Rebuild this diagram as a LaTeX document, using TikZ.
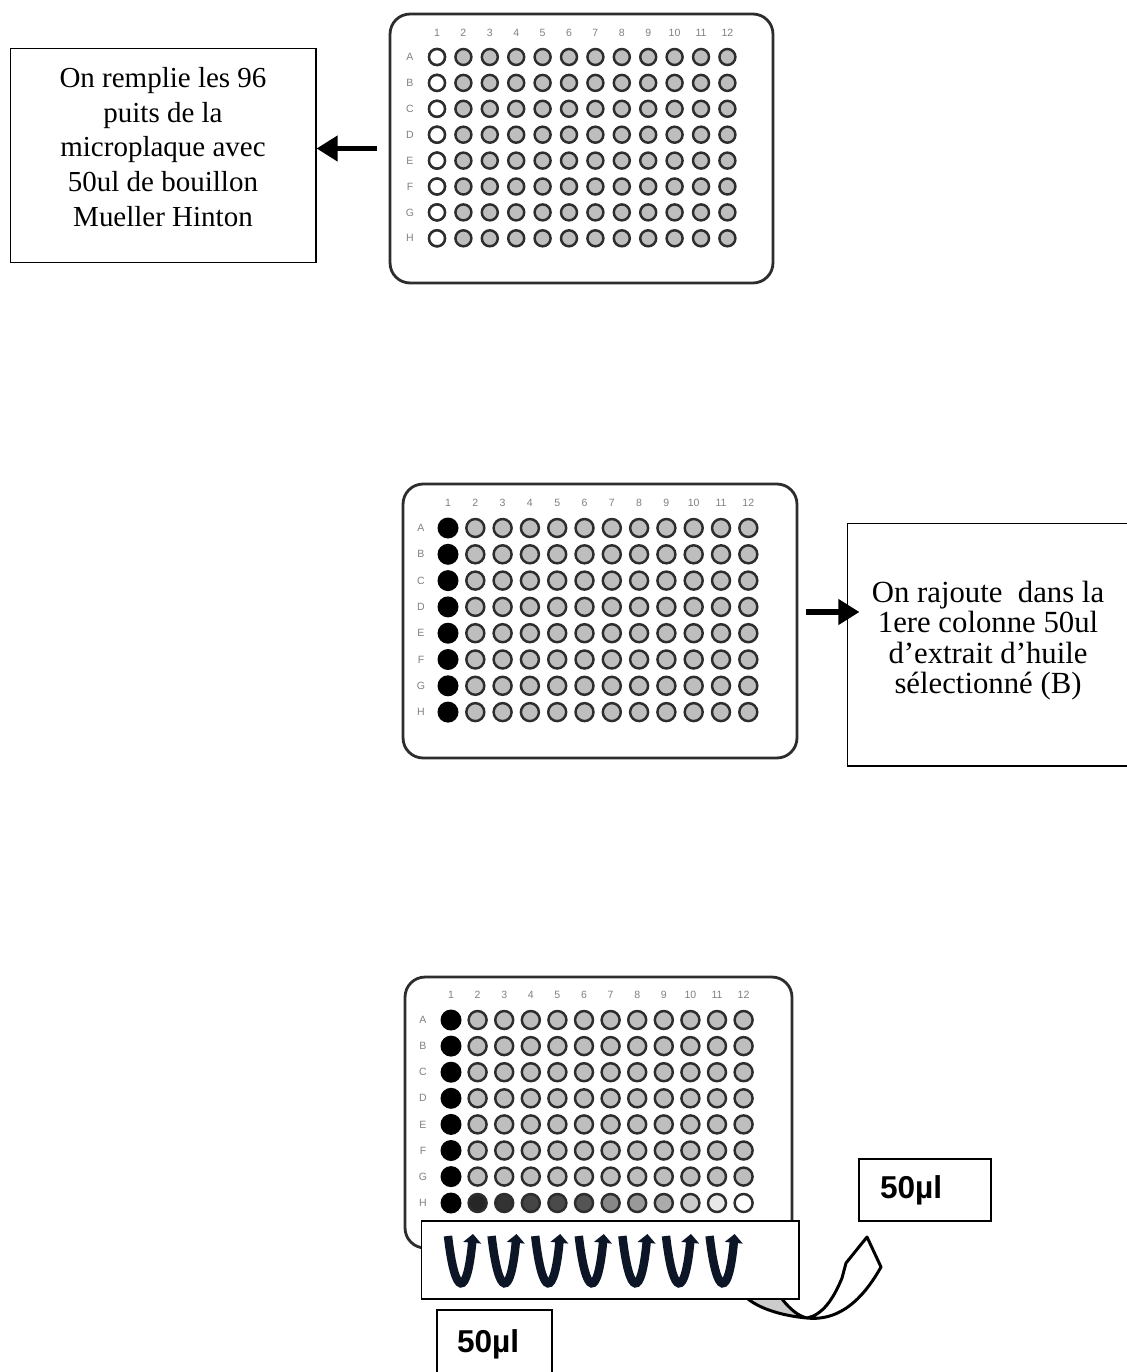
\documentclass[tikz,border=0pt]{standalone}
\usepackage{fontspec}
\setmainfont{Liberation Serif}
\setsansfont{Liberation Sans}
\usetikzlibrary{arrows.meta}
\definecolor{wellrim}{RGB}{45,45,45}
\definecolor{wellfill}{RGB}{190,190,190}
\definecolor{stripink}{RGB}{12,22,38}
\begin{document}
\begin{tikzpicture}[x=0.02cm,y=-0.02cm,
	plate/.style={draw=wellrim, line width=1.6pt, rounded corners=0.4cm, inner sep=0pt},
	well/.style={draw=wellrim, line width=1.4pt},
	lbl/.style={font=\sffamily\fontsize{6}{6}\selectfont, text=gray},
	infobox/.style={draw, line width=0.6pt},
	infotext/.style={align=center, inner sep=0pt},
	volbox/.style={draw, line width=0.6pt, align=left, inner xsep=0.42cm, font=\sffamily\bfseries\fontsize{18}{18}\selectfont},
	bigarrow/.style={line width=3.4pt, -{Triangle[length=12pt,width=14pt]}},
	ustroke/.style={draw=stripink, line width=4.8pt, -{Triangle[length=5pt,width=10pt]}}]
	\useasboundingbox (0,0) rectangle (1126,1372);
	\node[plate, minimum width=7.66cm, minimum height=5.38cm] (plate1) at (581.5,148.5) {};
	\foreach \c in {1,...,12}
		\node[lbl] at ({437+26.4*(\c-1)},33) {\c};
	\foreach \r [count=\i from 0] in {A,B,C,D,E,F,G,H}
		\node[lbl] at (410,{57+25.9*\i}) {\r};
	\foreach \c in {1,...,12}
		\foreach \i in {0,...,7}
			\draw[well, fill=wellfill] ({437+26.4*(\c-1)},{57+25.9*\i}) circle[radius=0.16cm];
	\foreach \i in {0,...,7}
		\draw[well, fill=white] (437,{57+25.9*\i}) circle[radius=0.16cm];
	\node[infobox, minimum width=6.12cm, minimum height=4.28cm] (step1) at (163,155.5) {};
	\node[infotext, font=\fontsize{16.5}{19.8}\selectfont] (step1text) at ([yshift=0.17cm]step1.center) {On remplie les 96\\puits de la\\microplaque avec\\50ul de bouillon\\Mueller Hinton};
	\draw[bigarrow, shorten <=0.24cm] (plate1.west) -- (plate1.west -| step1.east);

	\node[plate, minimum width=7.88cm, minimum height=5.48cm] (plate2) at (600,621) {};
	\foreach \c in {1,...,12}
		\node[lbl] at ({448+27.3*(\c-1)},503) {\c};
	\foreach \r [count=\i from 0] in {A,B,C,D,E,F,G,H}
		\node[lbl] at (421,{528+26.3*\i}) {\r};
	\foreach \c in {2,...,12}
		\foreach \i in {0,...,7}
			\draw[well, fill=wellfill] ({448+27.3*(\c-1)},{528+26.3*\i}) circle[radius=0.18cm];
	\foreach \i in {0,...,7}
		\fill (448,{528+26.3*\i}) circle[radius=0.21cm];
	\node[infobox, minimum width=5.64cm, minimum height=4.86cm] (step2) at (988,644.5) {};
	\node[infotext, font=\fontsize{17.5}{17.3}\selectfont] (step2text) at ([yshift=0.08cm]step2.center) {On rajoute\ \ dans la\\1ere colonne 50ul\\d’extrait d’huile\\sélectionné (B)};
	\draw[bigarrow, shorten <=0.16cm, shorten >=-0.26cm] ([yshift=0.18cm]plate2.east) -- ([yshift=0.18cm]plate2.east -| step2.west);

	\node[plate, minimum width=7.74cm, minimum height=5.42cm] (plate3) at (598.5,1112.5) {};
	\foreach \c in {1,...,12}
		\node[lbl] at ({451+26.6*(\c-1)},995) {\c};
	\foreach \r [count=\i from 0] in {A,B,C,D,E,F,G,H}
		\node[lbl] at (423,{1020+26.1*\i}) {\r};
	\foreach \c in {2,...,12}
		\foreach \i in {0,...,6}
			\draw[well, fill=wellfill] ({451+26.6*(\c-1)},{1020+26.1*\i}) circle[radius=0.18cm];
	\foreach \i in {0,...,6}
		\fill (451,{1020+26.1*\i}) circle[radius=0.21cm];
	\fill (451,1203) circle[radius=0.21cm];
	\foreach \c/\p in {2/85,3/80,4/73,5/71,6/67,7/47,8/40,9/33,10/20,11/9,12/0}
		\draw[well, fill=black!\p!white] ({451+26.6*(\c-1)},1203) circle[radius=0.18cm];

	\fill[gray!40] (748,1299) -- (782,1299) .. controls (790,1309) and (798,1316) .. (807,1318) .. controls (785,1316) and (762,1310) .. (748,1299) -- cycle;
	\draw[line width=1.7pt, line join=round] (748,1299) .. controls (762,1310) and (785,1316) .. (807,1318) .. controls (845,1322) and (868,1290) .. (881,1267) -- (867,1237) -- (846,1263) -- (842,1278) .. controls (833,1300) and (822,1315) .. (807,1318) .. controls (798,1316) and (790,1309) .. (782,1299);
	\node[draw, fill=white, line width=0.6pt, minimum width=7.56cm, minimum height=1.56cm] (strip) at (610,1260) {};
	\foreach \k in {0,...,6}
		\draw[ustroke] ({448+43.6*\k},1236) .. controls ({455+43.6*\k},1298) and ({467+43.6*\k},1298) .. ({473+43.6*\k},1234);

	\node[volbox, text width=1.8cm, minimum height=1.24cm] (vol1) at (925,1190) {50µl};
	\node[volbox, inner xsep=0.4cm, text width=1.5cm, minimum height=1.36cm] (vol2) at (494.5,1344) {50µl};
\end{tikzpicture}
\end{document}
